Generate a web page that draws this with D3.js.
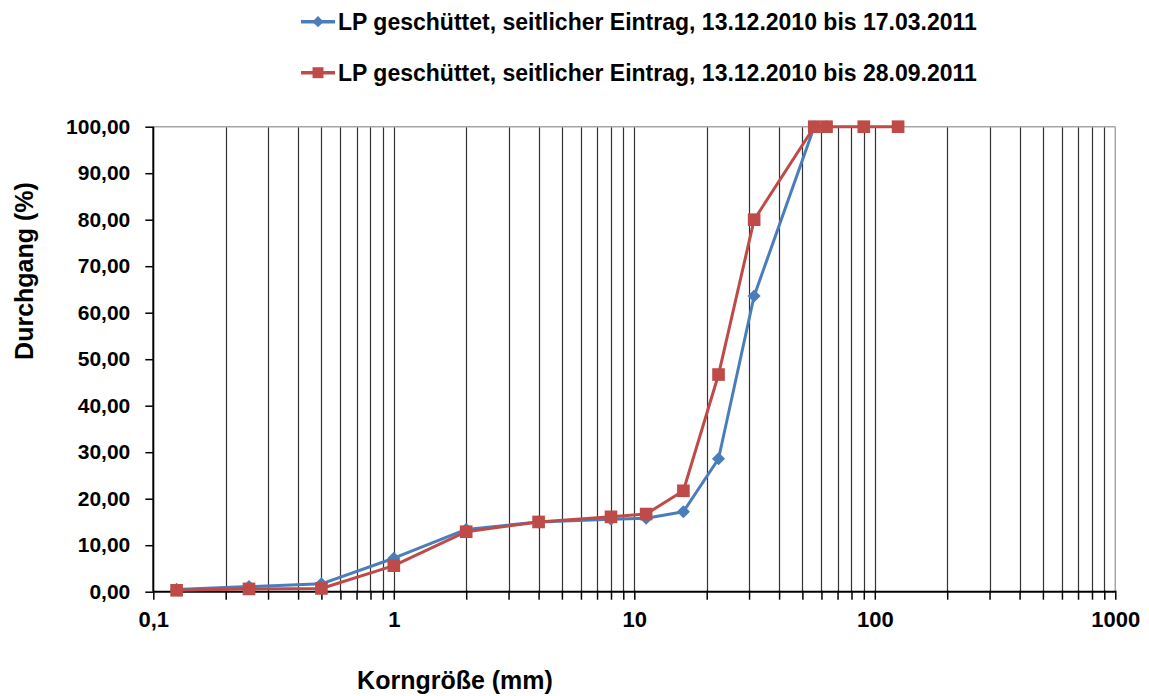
<!DOCTYPE html>
<html><head><meta charset="utf-8">
<script src="https://cdn.jsdelivr.net/npm/d3@7"></script>
<style>body{margin:0;background:#fff}svg{display:block;font-family:"Liberation Sans",Arial,sans-serif}</style>
</head><body><svg id="c" width="1149" height="696"></svg>
<script>
const seriesNames = ["LP geschüttet, seitlicher Eintrag, 13.12.2010 bis 17.03.2011",
                     "LP geschüttet, seitlicher Eintrag, 13.12.2010 bis 28.09.2011"];
const sizesBlue = [0.125, 0.25, 0.5, 1, 2, 4, 8, 11.2, 16, 22.4, 31.5, 56, 63];
const valuesBlue = [0.5, 1.1, 1.7, 7.2, 13.4, 15.0, 15.6, 15.8, 17.2, 28.6, 63.6, 100, 100];
const sizesRed = [0.125, 0.25, 0.5, 1, 2, 4, 8, 11.2, 16, 22.4, 31.5, 56, 63, 90, 125];
const valuesRed = [0.3, 0.6, 0.7, 5.6, 12.9, 15.0, 16.1, 16.7, 21.7, 46.7, 80.0, 100, 100, 100, 100];
const yTicks = [0,10,20,30,40,50,60,70,80,90,100];
const xMajor = [0.1, 1, 10, 100, 1000];
const colors = ["#4a7ebb", "#be4b48"];
const FONT = '"Liberation Sans",Arial,sans-serif';

const svg = d3.select("#c");
const L = 153.3, R = 1115.3, T = 126.7, B = 591.7;
const x = d3.scaleLog().domain([0.1, 1000]).range([L, R]);
const y = d3.scaleLinear().domain([0, 100]).range([B, T]);
const fmt = v => d3.format(".2f")(v).replace(".", ",");
const fmtX = v => String(v).replace(".", ",");

const minor = [];
for (let d = 0.1; d < 1000; d *= 10) for (let k = 2; k <= 9; k++) minor.push(+(d * k).toPrecision(3));
const gridVals = minor.concat([1, 10, 100]);

svg.append("g").selectAll("line").data(gridVals).join("line")
  .attr("x1", d => Math.round(x(d)) + 0.5).attr("x2", d => Math.round(x(d)) + 0.5)
  .attr("y1", T).attr("y2", B).attr("stroke", "#333").attr("stroke-width", 1.2);

svg.append("line").attr("x1", L).attr("x2", R).attr("y1", T).attr("y2", T).attr("stroke", "#a6a6a6").attr("stroke-width", 1.5);
svg.append("line").attr("x1", R).attr("x2", R).attr("y1", T).attr("y2", B).attr("stroke", "#a6a6a6").attr("stroke-width", 1.5);

const yAx = svg.append("g").attr("transform", `translate(${L},0)`)
  .call(d3.axisLeft(y).tickValues(yTicks).tickFormat(fmt).tickSize(8).tickPadding(15));
yAx.select(".domain").attr("stroke", "#000").attr("stroke-width", 2).attr("d", `M0,${T}V${B}`);
yAx.selectAll(".tick line").attr("stroke", "#000").attr("stroke-width", 1.5);
yAx.selectAll("text").attr("font-size", 21).attr("font-weight", "bold").attr("fill", "#000")
  .attr("font-family", FONT);

const xAx = svg.append("g").attr("transform", `translate(0,${B})`)
  .call(d3.axisBottom(x).tickValues(xMajor.concat(minor)).tickFormat(d => xMajor.includes(d) ? fmtX(d) : "").tickSize(8).tickPadding(12));
xAx.select(".domain").attr("stroke", "#000").attr("stroke-width", 2).attr("d", `M${L},0H${R}`);
xAx.selectAll(".tick line").attr("stroke", "#000").attr("stroke-width", 1.5).attr("y1", -1);
xAx.selectAll("text").attr("font-size", 22).attr("font-weight", "bold").attr("fill", "#000")
  .attr("font-family", FONT);

const series = [
  {sizes: sizesBlue, values: valuesBlue, color: colors[0], sym: "diamond"},
  {sizes: sizesRed, values: valuesRed, color: colors[1], sym: "square"}
];
const line = d3.line().x(d => x(d[0])).y(d => y(d[1]));
series.forEach(s => {
  const pts = s.sizes.map((v, i) => [v, s.values[i]]);
  svg.append("path").datum(pts).attr("d", line).attr("fill", "none")
    .attr("stroke", s.color).attr("stroke-width", 3).attr("stroke-linejoin", "round");
  const sym = s.sym === "diamond" ? d3.symbol().type(d3.symbolDiamond2).size(110) : d3.symbol().type(d3.symbolSquare).size(160);
  svg.append("g").selectAll("path").data(pts).join("path")
    .attr("transform", d => `translate(${x(d[0])},${y(d[1])})`)
    .attr("d", sym).attr("fill", s.color);
});

const legY = [21.7, 72.7];
series.forEach((s, i) => {
  const g = svg.append("g").attr("transform", `translate(301,${legY[i]})`);
  g.append("line").attr("x1", 0).attr("x2", 34).attr("stroke", s.color).attr("stroke-width", 3.5);
  const sym = s.sym === "diamond" ? d3.symbol().type(d3.symbolDiamond2).size(80) : d3.symbol().type(d3.symbolSquare).size(120);
  g.append("path").attr("transform", "translate(17,0)").attr("d", sym).attr("fill", s.color);
  g.append("text").attr("x", 37).attr("y", 8).attr("font-size", 23).attr("font-weight", "bold")
    .text(seriesNames[i]);
});

svg.append("text").attr("x", 455).attr("y", 689).attr("text-anchor", "middle")
  .attr("font-size", 25).attr("font-weight", "bold").text("Korngröße (mm)");
svg.append("text").attr("transform", "translate(33,271) rotate(-90)").attr("text-anchor", "middle")
  .attr("font-size", 25).attr("font-weight", "bold").text("Durchgang (%)");
</script></body></html>
